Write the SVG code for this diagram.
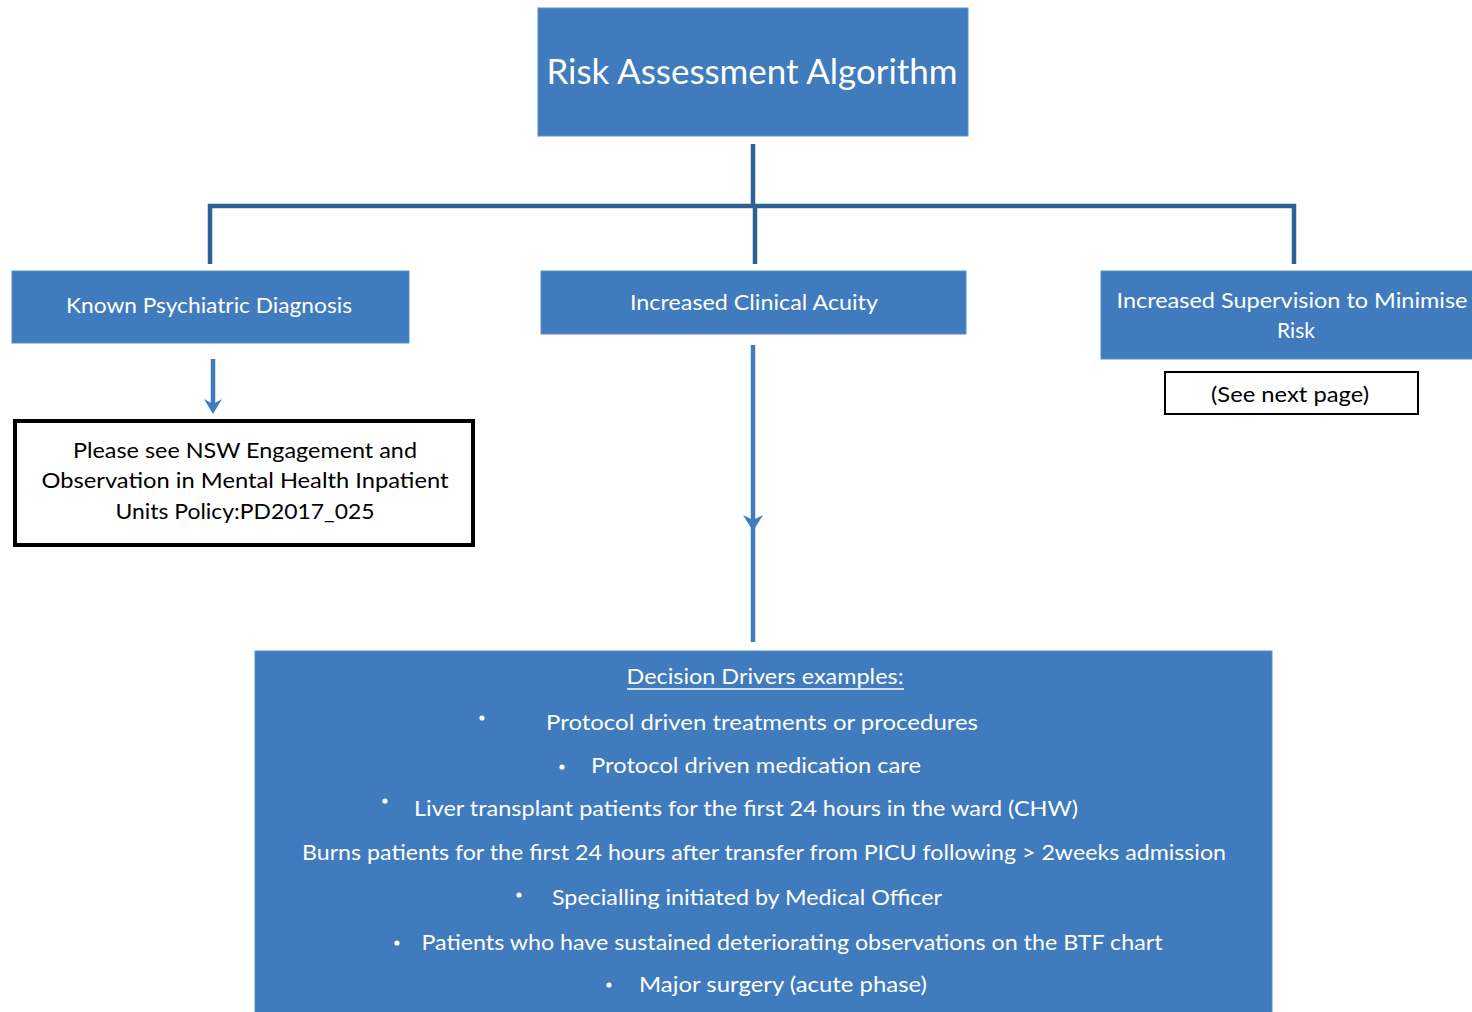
<svg xmlns="http://www.w3.org/2000/svg" width="1472" height="1012" viewBox="0 0 1472 1012">
<style>
.box{fill:#3f7bbd;stroke:#5b8fcb;stroke-width:1}
.wt{fill:#ffffff;font-family:Lato,"Liberation Sans",sans-serif;text-anchor:middle}
.bt{fill:#000000;font-family:Lato,"Liberation Sans",sans-serif;text-anchor:middle}
.conn{stroke:#2e6196;stroke-width:4.5;fill:none}
.arr{stroke:#3f7bbd;stroke-width:4.5;fill:none}
.head{fill:#3f7bbd}
.dot{fill:#ffffff}
</style>
<rect width="1472" height="1012" fill="#ffffff"/>
<g id="connectors">
<line class="conn" x1="753" y1="144" x2="753" y2="206"/>
<line class="conn" x1="755" y1="206" x2="755" y2="264"/>
<polyline class="conn" points="210,264 210,206 1294,206 1294,264"/>
<line class="arr" x1="213" y1="359" x2="213" y2="406"/>
<polygon class="head" points="204,399 213,414 222,399 213,404"/>
<line class="arr" x1="753" y1="345" x2="753" y2="642"/>
<polygon class="head" points="743,515 753,531 763,515 753,520"/>
</g>
<g id="node-risk">
<rect class="box" x="538" y="8" width="430" height="128"/>
<text class="wt" x="752" y="84" font-size="34" textLength="411" lengthAdjust="spacingAndGlyphs">Risk Assessment Algorithm</text>
</g>
<g id="node-psych">
<rect class="box" x="12" y="271" width="397" height="72"/>
<text class="wt" x="209" y="313" font-size="21" textLength="286" lengthAdjust="spacingAndGlyphs">Known Psychiatric Diagnosis</text>
</g>
<g id="node-acuity">
<rect class="box" x="541" y="271" width="425" height="63"/>
<text class="wt" x="754" y="310" font-size="21" textLength="248" lengthAdjust="spacingAndGlyphs">Increased Clinical Acuity</text>
</g>
<g id="node-supervision">
<rect class="box" x="1101" y="271" width="372" height="88"/>
<text class="wt" x="1292" y="308" font-size="21" textLength="351" lengthAdjust="spacingAndGlyphs">Increased Supervision to Minimise</text>
<text class="wt" x="1296" y="338" font-size="21">Risk</text>
</g>
<g id="node-seenext">
<rect x="1165" y="372" width="253" height="42" fill="#ffffff" stroke="#000000" stroke-width="2"/>
<text class="bt" x="1290" y="402" font-size="21" textLength="158" lengthAdjust="spacingAndGlyphs">(See next page)</text>
</g>
<g id="node-nsw">
<rect x="15" y="421" width="458" height="124" fill="#ffffff" stroke="#000000" stroke-width="4"/>
<text class="bt" x="245" y="458" font-size="22" textLength="344" lengthAdjust="spacingAndGlyphs">Please see NSW Engagement and</text>
<text class="bt" x="245" y="488" font-size="22" textLength="407" lengthAdjust="spacingAndGlyphs">Observation in Mental Health Inpatient</text>
<text class="bt" x="245" y="519" font-size="22" textLength="259" lengthAdjust="spacingAndGlyphs">Units Policy:PD2017_025</text>
</g>
<g id="node-drivers">
<rect class="box" x="255" y="651" width="1017" height="370"/>
<text class="wt" x="765" y="684" font-size="22" textLength="277" lengthAdjust="spacingAndGlyphs">Decision Drivers examples:</text>
<line x1="627" y1="689" x2="904" y2="689" stroke="#ffffff" stroke-width="1.5"/>
<circle class="dot" cx="482" cy="718" r="2.6"/>
<text class="wt" x="762" y="730" font-size="22" textLength="432" lengthAdjust="spacingAndGlyphs">Protocol driven treatments or procedures</text>
<circle class="dot" cx="562" cy="767" r="2.6"/>
<text class="wt" x="756" y="773" font-size="22" textLength="330" lengthAdjust="spacingAndGlyphs">Protocol driven medication care</text>
<circle class="dot" cx="385" cy="801" r="2.6"/>
<text class="wt" x="746" y="816" font-size="22" textLength="664" lengthAdjust="spacingAndGlyphs">Liver transplant patients for the first 24 hours in the ward (CHW)</text>
<text class="wt" x="764" y="860" font-size="22" textLength="924" lengthAdjust="spacingAndGlyphs">Burns patients for the first 24 hours after transfer from PICU following &gt; 2weeks admission</text>
<circle class="dot" cx="519" cy="895" r="2.6"/>
<text class="wt" x="747" y="905" font-size="22" textLength="390" lengthAdjust="spacingAndGlyphs">Specialling initiated by Medical Officer</text>
<circle class="dot" cx="397" cy="943" r="2.6"/>
<text class="wt" x="792" y="950" font-size="22" textLength="741" lengthAdjust="spacingAndGlyphs">Patients who have sustained deteriorating observations on the BTF chart</text>
<circle class="dot" cx="609" cy="985" r="2.6"/>
<text class="wt" x="783" y="992" font-size="22" textLength="288" lengthAdjust="spacingAndGlyphs">Major surgery (acute phase)</text>
</g>
</svg>
